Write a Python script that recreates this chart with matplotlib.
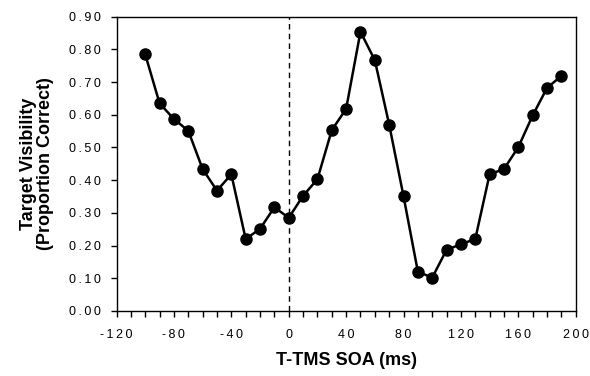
import matplotlib
matplotlib.use("Agg")
import matplotlib.pyplot as plt
import numpy as np

soa = [-100, -90, -80, -70, -60, -50, -40, -30, -20, -10, 0, 10, 20, 30, 40,
       50, 60, 70, 80, 90, 100, 110, 120, 130, 140, 150, 160, 170, 180, 190]
visibility = [0.785, 0.635, 0.587, 0.551, 0.434, 0.368, 0.418, 0.220, 0.251, 0.317,
              0.285, 0.352, 0.403, 0.553, 0.618, 0.854, 0.767, 0.570, 0.351, 0.120,
              0.102, 0.187, 0.204, 0.220, 0.418, 0.434, 0.501, 0.598, 0.682, 0.719]
x_ticks = [-120, -80, -40, 0, 40, 80, 120, 160, 200]
y_ticks = [0.0, 0.1, 0.2, 0.3, 0.4, 0.5, 0.6, 0.7, 0.8, 0.9]

plt.rcParams['font.family'] = ['Liberation Sans', 'DejaVu Sans']

fig = plt.figure(figsize=(5.9, 3.76), dpi=100)
ax = fig.add_axes([0.1975, 0.173, 0.7783, 0.7826])

ax.axvline(0, color='black', lw=1.0, ls=(0, (4, 3)), zorder=1)
ax.plot(soa, visibility, color='black', lw=1.8, marker='o', markersize=8, zorder=3)

def spaced(s):
    return "\u2009".join(s)

ax.set_xlim(-120, 200)
ax.set_ylim(0, 0.9)
ax.set_xticks(x_ticks)
ax.set_xticklabels([spaced(str(v)) for v in x_ticks], fontsize=9)
ax.set_xticks(np.arange(-120, 201, 10), minor=True)
ax.set_yticks(y_ticks)
ax.set_yticklabels([spaced(f"{v:.2f}") for v in y_ticks], fontsize=9)
ax.tick_params(axis='both', which='both', direction='out', length=4, width=1, color='black')
ax.tick_params(axis='x', which='major', pad=9)
ax.tick_params(axis='y', which='major', pad=7)

for s in ax.spines.values():
    s.set_linewidth(1.0)
    s.set_color('black')

ax.set_xlabel("T-TMS SOA (ms)", fontsize=13, fontweight='bold', labelpad=8)
ax.set_ylabel("Target Visibility\n(Proportion Correct)", fontsize=13, fontweight='bold', labelpad=11, linespacing=1.0)

fig.savefig("out.png", dpi=100)
